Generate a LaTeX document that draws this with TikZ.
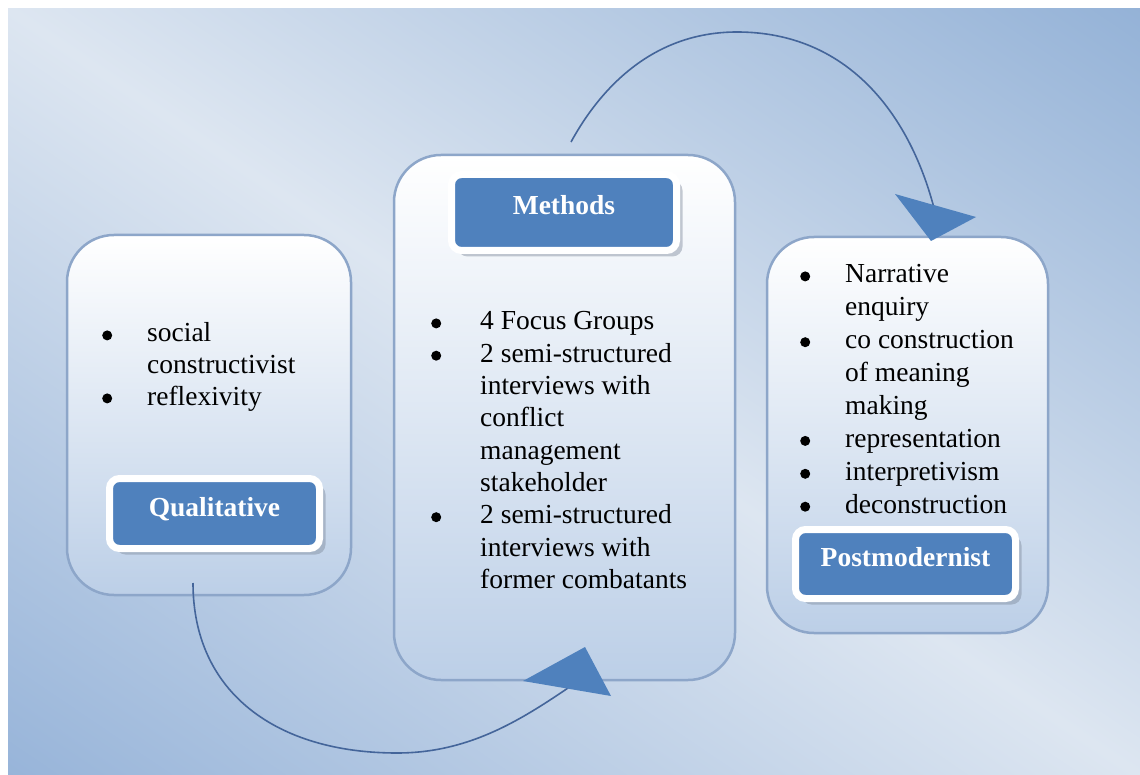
\documentclass[tikz,border=0pt]{standalone}
\usepackage{fontspec}
\setmainfont{Liberation Serif}
\usepackage{pict2e}
\usetikzlibrary{shadings,shadows}

% palette
\definecolor{bgLight}{HTML}{DDE6F1}
\definecolor{bgDarkA}{HTML}{97B4D9}
\definecolor{bgDarkB}{HTML}{94B2D7}
\definecolor{panelBot}{HTML}{BCCFE7}
\definecolor{panelEdge}{HTML}{8DA6C9}
\definecolor{titleBlue}{HTML}{4F81BD}
\definecolor{shadowGray}{HTML}{7F8A9C}
\definecolor{arcLine}{HTML}{44659A}

% light band along the falling diagonal, darker toward the other two corners
\pgfdeclarehorizontalshading{diagband}{100bp}{%
  color(0bp)=(bgDarkA); color(15bp)=(bgDarkA);
  color(50bp)=(bgLight);
  color(85bp)=(bgDarkB); color(100bp)=(bgDarkB)}

% solid round bullet
\newcommand{\listbullet}[1][45pt]{\makebox[#1][l]{\setlength{\unitlength}{1pt}%
  \begin{picture}(10,0)\put(5,6.6){\circle*{10}}\end{picture}}}

\tikzset{
  panel/.style={draw=panelEdge, line width=2.5pt, rounded corners=47pt,
    top color=white, bottom color=panelBot, inner sep=0pt},
  titlebox/.style={fill=titleBlue, draw=white, line width=7pt,
    rounded corners=10pt, text=white, inner sep=0pt,
    font=\fontsize{27.5}{33}\selectfont\bfseries,
    text height=19pt, text depth=14pt,
    drop shadow={shadow xshift=6pt, shadow yshift=-6pt, opacity=0.45, fill=shadowGray}},
  itemlist/.style={anchor=base west, inner sep=0pt, text=black},
  arcpath/.style={draw=arcLine, line width=1.6pt},
  arrowhead/.style={fill=titleBlue}
}

\begin{document}
\begin{tikzpicture}[x=1pt, y=-1pt]
  \useasboundingbox (0,0) rectangle (1140,775);
  \fill[white] (0,0) rectangle (1140,775);

  % background, graded across the rising diagonal
  \shade[shading=diagband, shading angle=55.9] (8,9) rectangle (1140,775);

  % panels
  \node[panel, minimum width=284pt, minimum height=360pt] (qualPanel) at (209,415) {};
  \node[panel, minimum width=341pt, minimum height=525pt] (methPanel) at (564.5,417.5) {};
  \node[panel, minimum width=281pt, minimum height=396pt] (postPanel) at (907.5,435) {};

  % titles
  \node[titlebox, minimum width=210pt, minimum height=70pt] (qualTitle) at (214.5,513.5) {Qualitative};
  \node[titlebox, minimum width=225pt, minimum height=76pt] (methTitle) at (564,212.5) {Methods};
  \node[titlebox, minimum width=220pt, minimum height=69pt] (postTitle) at (905.5,564) {Postmodernist};

  % bullet lists
  \node[itemlist, font=\fontsize{27.5}{31.5}\selectfont] (qualItems) at (102,342) {%
    \begin{tabular}[t]{@{}l@{}l@{}}
      \listbullet & social\\
                  & constructivist\\
      \listbullet & reflexivity
    \end{tabular}};

  \node[itemlist, font=\fontsize{27.5}{32.3}\selectfont] (methItems) at (431,330) {%
    \begin{tabular}[t]{@{}l@{}l@{}}
      \listbullet[49pt] & 4 Focus Groups\\
      \listbullet[49pt] & 2 semi-structured\\
                        & interviews with\\
                        & conflict\\
                        & management\\
                        & stakeholder\\
      \listbullet[49pt] & 2 semi-structured\\
                        & interviews with\\
                        & former combatants
    \end{tabular}};

  \node[itemlist, font=\fontsize{27.5}{32.9}\selectfont] (postItems) at (800,283) {%
    \begin{tabular}[t]{@{}l@{}l@{}}
      \listbullet & Narrative\\
                  & enquiry\\
      \listbullet & co construction\\
                  & of meaning\\
                  & making\\
      \listbullet & representation\\
      \listbullet & interpretivism\\
      \listbullet & deconstruction
    \end{tabular}};

  % curved connectors
  \coordinate (topStart) at (571,142);
  \coordinate (topEnd) at (934,208);
  \coordinate (botStart) at (193,583);
  \coordinate (botEnd) at (568,688);

  \draw[arcpath] (topStart) .. controls (600,89) and (652,32) .. (737,32)
                            .. controls (847,32) and (909,113) .. (topEnd);
  \fill[arrowhead] (895,194) -- (976,217) -- (931,241) -- cycle;

  \draw[arcpath] (botStart) .. controls (193,693) and (277,753) .. (397,753)
                            .. controls (467,753) and (518,722) .. (botEnd);
  \fill[arrowhead] (523,681) -- (585,647) -- (611,696) -- cycle;
\end{tikzpicture}
\end{document}
